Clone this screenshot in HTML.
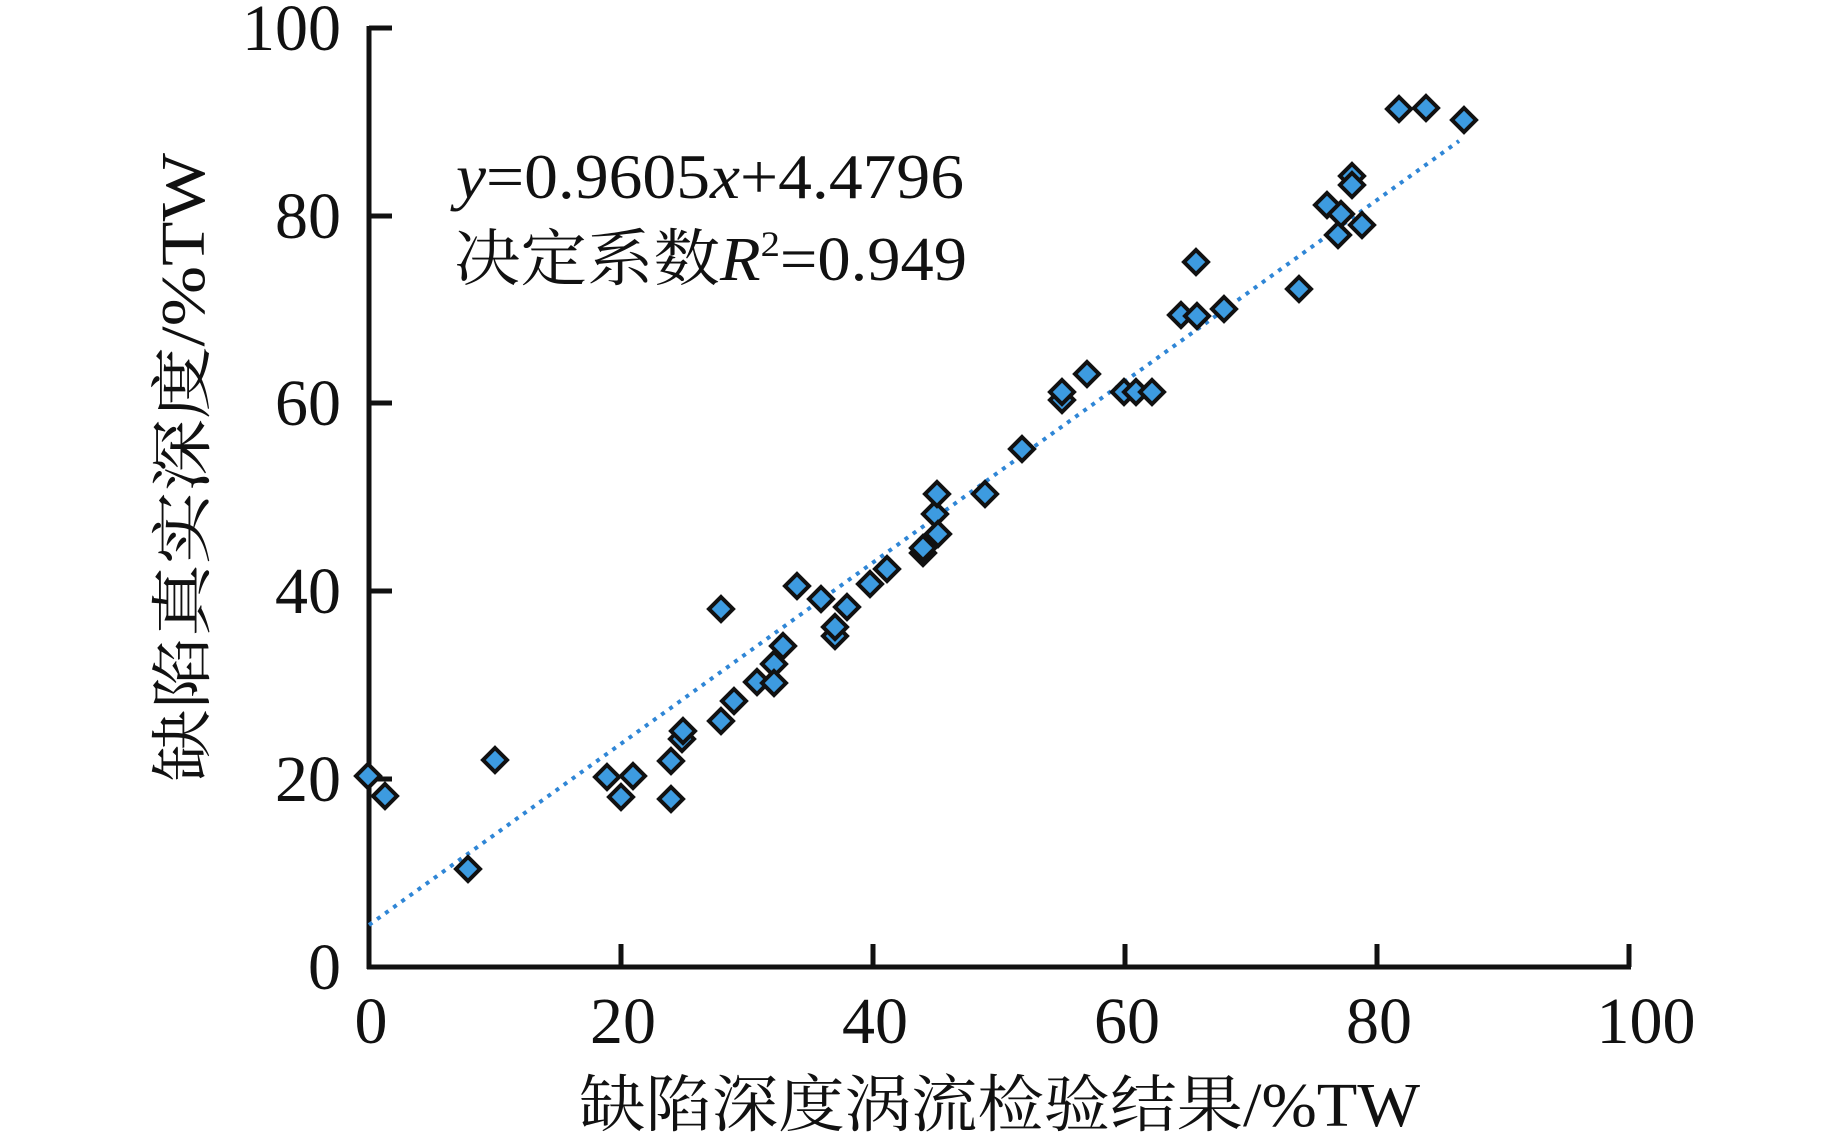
<!DOCTYPE html>
<html><head><meta charset="utf-8"><style>html,body{margin:0;padding:0;background:#fff}svg{display:block}
.t{font-family:"Liberation Serif","Times New Roman",serif;fill:#111}
.c{font-family:"Liberation Serif","Noto Serif CJK SC",serif;fill:#111}
</style></head>
<body>
<svg width="1843" height="1146" viewBox="0 0 1843 1146" xmlns="http://www.w3.org/2000/svg">
<defs><polygon id="d" points="0,-12 12,0 0,12 -12,0" fill="#3d9be0" stroke="#111" stroke-width="4"/></defs>
<g stroke="#111" stroke-width="5" fill="none">
<line x1="369" y1="26" x2="369" y2="969"/>
<line x1="367" y1="967" x2="1631" y2="967"/>
<line x1="369" y1="28" x2="392" y2="28"/>
<line x1="369" y1="216" x2="392" y2="216"/>
<line x1="369" y1="403" x2="392" y2="403"/>
<line x1="369" y1="591" x2="392" y2="591"/>
<line x1="369" y1="779" x2="392" y2="779"/>
<line x1="621" y1="967" x2="621" y2="944"/>
<line x1="873" y1="967" x2="873" y2="944"/>
<line x1="1125" y1="967" x2="1125" y2="944"/>
<line x1="1377" y1="967" x2="1377" y2="944"/>
<line x1="1629" y1="967" x2="1629" y2="944"/>
</g>
<g class="t" font-size="66" text-anchor="end">
<text x="341" y="50">100</text>
<text x="341" y="238">80</text>
<text x="341" y="425">60</text>
<text x="341" y="613">40</text>
<text x="341" y="801">20</text>
<text x="341" y="989">0</text>
</g>
<g class="t" font-size="66" text-anchor="middle">
<text x="371" y="1043">0</text>
<text x="623" y="1043">20</text>
<text x="875" y="1043">40</text>
<text x="1127" y="1043">60</text>
<text x="1379" y="1043">80</text>
<text x="1646" y="1043">100</text>
</g>
<text class="c" x="579" y="1126" font-size="62" textLength="841" lengthAdjust="spacingAndGlyphs">缺陷深度涡流检验结果/%TW</text>
<text class="c" transform="translate(204,782) rotate(-90)" x="0" y="0" font-size="62" textLength="629" lengthAdjust="spacingAndGlyphs">缺陷真实深度/%TW</text>
<text class="t" x="456" y="198" font-size="64" textLength="508" lengthAdjust="spacingAndGlyphs"><tspan font-style="italic">y</tspan>=0.9605<tspan font-style="italic">x</tspan>+4.4796</text>
<text class="c" x="454" y="280" font-size="62" textLength="513" lengthAdjust="spacingAndGlyphs">决定系数<tspan font-style="italic">R</tspan><tspan font-size="36" dy="-24">2</tspan><tspan dy="24">=0.949</tspan></text>
<line x1="369" y1="925" x2="1459" y2="141" stroke="#2f86d6" stroke-width="4" stroke-dasharray="4,6"/>
<g>
<use href="#d" x="368" y="776"/><use href="#d" x="385" y="796"/><use href="#d" x="468" y="869"/><use href="#d" x="495" y="760"/>
<use href="#d" x="607" y="777"/><use href="#d" x="621" y="797"/><use href="#d" x="633" y="776"/><use href="#d" x="671" y="761"/>
<use href="#d" x="671" y="799"/><use href="#d" x="682" y="739"/><use href="#d" x="683" y="731"/><use href="#d" x="721" y="609"/>
<use href="#d" x="721" y="721"/><use href="#d" x="734" y="701"/><use href="#d" x="757" y="682"/><use href="#d" x="774" y="664"/>
<use href="#d" x="774" y="683"/><use href="#d" x="783" y="646"/><use href="#d" x="797" y="586"/><use href="#d" x="821" y="599"/>
<use href="#d" x="835" y="636"/><use href="#d" x="835" y="627"/><use href="#d" x="847" y="607"/><use href="#d" x="870" y="584"/>
<use href="#d" x="887" y="569"/><use href="#d" x="923" y="553"/><use href="#d" x="923" y="548"/><use href="#d" x="935" y="514"/>
<use href="#d" x="938" y="534"/><use href="#d" x="937" y="494"/><use href="#d" x="985" y="494"/><use href="#d" x="1022" y="449"/>
<use href="#d" x="1062" y="400"/><use href="#d" x="1062" y="392"/><use href="#d" x="1087" y="374"/><use href="#d" x="1124" y="392"/>
<use href="#d" x="1136" y="392"/><use href="#d" x="1152" y="392"/><use href="#d" x="1181" y="315"/><use href="#d" x="1196" y="262"/>
<use href="#d" x="1197" y="316"/><use href="#d" x="1224" y="309"/><use href="#d" x="1299" y="289"/><use href="#d" x="1327" y="205"/>
<use href="#d" x="1338" y="235"/><use href="#d" x="1341" y="214"/><use href="#d" x="1352" y="176"/><use href="#d" x="1352" y="185"/>
<use href="#d" x="1362" y="225"/><use href="#d" x="1399" y="109"/><use href="#d" x="1426" y="108"/><use href="#d" x="1464" y="120"/>
</g>
</svg>
</body></html>
